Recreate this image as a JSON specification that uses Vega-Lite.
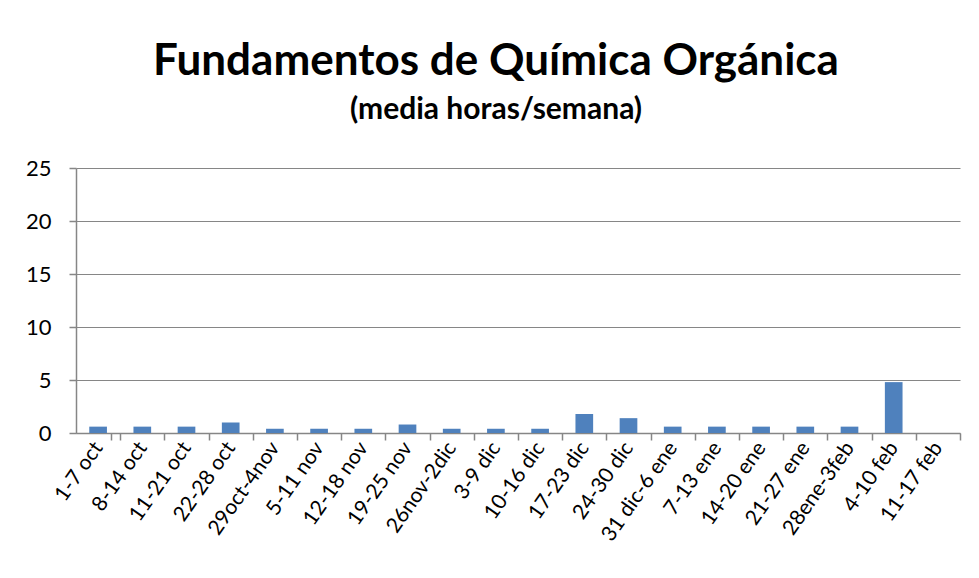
{
  "$schema": "https://vega.github.io/schema/vega-lite/v6.json",
  "autosize": "none",
  "width": 884,
  "height": 265,
  "padding": {"left": 76, "top": 168, "right": 19, "bottom": 145},
  "background": "white",
  "title": {
    "text": "Fundamentos de Química Orgánica",
    "subtitle": "(media horas/semana)",
    "font": "Lato",
    "fontSize": 44,
    "fontWeight": "bold",
    "color": "#000000",
    "subtitleFont": "Lato",
    "subtitleFontSize": 30,
    "subtitleFontWeight": "bold",
    "subtitleColor": "#000000",
    "subtitlePadding": 11,
    "anchor": "middle",
    "dx": -22,
    "offset": 32
  },
  "data": {
    "values": [
      {"semana": "1-7 oct", "horas": 0.6},
      {"semana": "8-14 oct", "horas": 0.6},
      {"semana": "11-21 oct", "horas": 0.6},
      {"semana": "22-28 oct", "horas": 1.0},
      {"semana": "29oct-4nov", "horas": 0.4},
      {"semana": "5-11 nov", "horas": 0.4},
      {"semana": "12-18 nov", "horas": 0.4},
      {"semana": "19-25 nov", "horas": 0.8},
      {"semana": "26nov-2dic", "horas": 0.4},
      {"semana": "3-9 dic", "horas": 0.4},
      {"semana": "10-16 dic", "horas": 0.4},
      {"semana": "17-23 dic", "horas": 1.8},
      {"semana": "24-30 dic", "horas": 1.4},
      {"semana": "31 dic-6 ene", "horas": 0.6},
      {"semana": "7-13 ene", "horas": 0.6},
      {"semana": "14-20 ene", "horas": 0.6},
      {"semana": "21-27 ene", "horas": 0.6},
      {"semana": "28ene-3feb", "horas": 0.6},
      {"semana": "4-10 feb", "horas": 4.8},
      {"semana": "11-17 feb", "horas": 0}
    ]
  },
  "mark": {"type": "bar", "color": "#4F81BD"},
  "encoding": {
    "x": {
      "field": "semana",
      "type": "nominal",
      "sort": null,
      "title": null,
      "scale": {"paddingInner": 0.6, "paddingOuter": 0.3},
      "axis": {
        "labelAngle": -55,
        "labelAlign": "right",
        "labelBaseline": "middle",
        "labelFont": "Lato",
        "labelFontSize": 21,
        "labelColor": "#000000",
        "labelPadding": 4,
        "labelOffset": -22.1,
        "ticks": true,
        "tickOffset": 22.1,
        "tickExtra": true,
        "tickSize": 7,
        "tickColor": "#868686",
        "tickWidth": 1.5,
        "domainColor": "#868686",
        "domainWidth": 1.5
      }
    },
    "y": {
      "field": "horas",
      "type": "quantitative",
      "title": null,
      "scale": {"domain": [0, 25]},
      "axis": {
        "values": [0, 5, 10, 15, 20, 25],
        "labelFont": "Lato",
        "labelFontSize": 22,
        "labelColor": "#000000",
        "labelPadding": 18,
        "ticks": true,
        "tickSize": 7,
        "tickColor": "#868686",
        "tickWidth": 1.5,
        "domainColor": "#868686",
        "domainWidth": 1.5,
        "gridColor": "#868686",
        "gridWidth": 1.2
      }
    }
  },
  "config": {"view": {"stroke": null}}
}
